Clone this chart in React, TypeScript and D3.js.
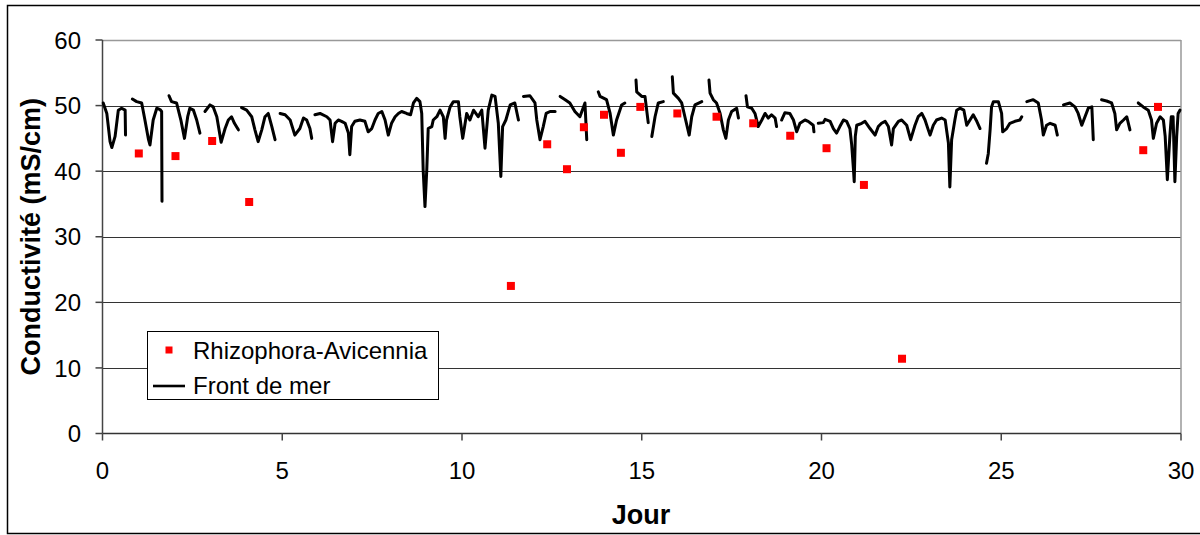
import React from "react";
import * as d3 from "d3";

// ---- Data ----
const rhizoDays = [1.01, 2.03, 3.05, 4.08, 11.36, 12.37, 12.92, 13.39, 13.95, 14.42, 14.96, 15.99, 17.08, 18.1, 19.13, 20.14, 21.18, 22.24, 28.95, 29.36];
const rhizoValues = [42.7, 42.3, 44.6, 35.3, 22.5, 44.1, 40.3, 46.7, 48.6, 42.8, 49.8, 48.8, 48.3, 47.3, 45.4, 43.5, 37.9, 11.4, 43.2, 49.8];

// Front de mer: continuous record, split in segments where data is missing
const frontSeg1: [number, number][] = [[0.02, 50.4], [0.12, 48.8], [0.21, 44.5], [0.26, 43.6], [0.35, 45.3], [0.44, 49.3], [0.53, 49.6], [0.63, 49.3], [0.64, 45.5]];
const frontSeg2: [number, number][] = [[0.83, 51.0], [0.95, 50.6], [1.09, 50.4], [1.18, 47.8], [1.28, 44.8], [1.32, 44.0], [1.41, 47.8], [1.51, 49.6], [1.6, 49.4], [1.645, 49.1], [1.655, 35.4]];
const frontSeg3: [number, number][] = [[1.85, 51.5], [1.92, 50.6], [2.06, 50.4], [2.18, 47.8], [2.28, 45.0], [2.37, 48.3], [2.43, 49.6], [2.53, 49.3], [2.62, 47.8], [2.71, 45.8]];
const frontSeg4: [number, number][] = [[2.85, 49.1], [2.99, 50.1], [3.08, 49.8], [3.18, 48.3], [3.3, 44.4], [3.41, 46.5], [3.5, 47.8], [3.59, 48.3], [3.67, 47.3], [3.78, 46.3]];
const frontSeg5: [number, number][] = [[3.87, 49.7], [4.01, 49.3], [4.15, 48.3], [4.24, 46.3], [4.33, 44.5], [4.43, 46.3], [4.52, 48.3], [4.61, 48.8], [4.71, 46.8], [4.8, 44.8]];
const frontSeg6: [number, number][] = [[4.94, 48.8], [5.08, 48.6], [5.22, 47.8], [5.35, 45.5], [5.49, 46.5], [5.59, 48.1], [5.68, 47.8], [5.77, 46.5], [5.82, 45.0]];
const frontSeg7: [number, number][] = [
  [5.91, 48.6], [6.05, 48.8], [6.24, 48.3], [6.33, 47.8], [6.4, 44.5], [6.47, 47.3], [6.56, 47.8], [6.65, 47.6], [6.75, 47.3], [6.84, 45.8], [6.88, 42.5], [6.93, 46.8],
  [7.02, 47.6], [7.16, 47.8], [7.3, 47.6], [7.39, 46.0], [7.49, 46.5], [7.58, 47.8], [7.67, 48.8], [7.77, 49.1], [7.86, 47.8], [7.95, 45.5], [8.04, 47.3], [8.14, 48.3],
  [8.23, 48.8], [8.32, 49.1], [8.46, 48.8], [8.57, 48.6], [8.65, 50.4], [8.74, 51.1], [8.83, 50.6], [8.88, 48.8], [8.92, 40.2], [8.97, 34.6], [9.02, 40.2], [9.06, 46.5],
  [9.16, 46.8], [9.2, 47.8], [9.3, 48.3], [9.39, 49.3], [9.48, 48.3], [9.53, 45.0], [9.57, 47.8], [9.67, 49.8], [9.76, 50.6], [9.9, 50.6], [9.94, 48.3], [10.02, 45.0],
  [10.13, 48.8], [10.22, 47.8], [10.32, 49.3], [10.45, 48.3], [10.55, 49.3], [10.64, 43.5], [10.73, 49.3], [10.83, 51.6], [10.92, 51.4], [11.01, 47.3], [11.08, 39.2],
  [11.13, 46.8], [11.22, 47.8], [11.34, 50.1], [11.47, 50.4], [11.57, 47.8]
];
const frontSeg8: [number, number][] = [[11.71, 51.4], [11.89, 51.5], [12.03, 50.4], [12.08, 47.8], [12.17, 44.8], [12.26, 46.8], [12.34, 48.8], [12.45, 49.1], [12.59, 49.1]];
const frontSeg9: [number, number][] = [[12.73, 51.4], [12.87, 50.9], [13.0, 50.4], [13.14, 49.1], [13.28, 48.3], [13.42, 50.4], [13.47, 44.8]];
const frontSeg10: [number, number][] = [[13.79, 52.1], [13.84, 51.4], [14.02, 50.9], [14.12, 48.8], [14.21, 45.5], [14.3, 47.8], [14.44, 50.1], [14.53, 50.4]];
const frontSeg11: [number, number][] = [[14.84, 53.9], [14.86, 52.1], [15.0, 51.4], [15.09, 51.4], [15.18, 47.4]];
const frontSeg12: [number, number][] = [[15.28, 45.3], [15.37, 48.3], [15.46, 50.4], [15.6, 50.6]];
const frontSeg13: [number, number][] = [[15.85, 54.4], [15.88, 51.9], [16.02, 51.1], [16.11, 50.4], [16.2, 48.3], [16.32, 45.5], [16.39, 48.3], [16.48, 50.1], [16.67, 50.6]];
const frontSeg14: [number, number][] = [[16.87, 53.9], [16.9, 51.9], [16.99, 50.9], [17.08, 50.4], [17.18, 48.8], [17.27, 46.3], [17.34, 45.0], [17.41, 47.8], [17.5, 49.1], [17.64, 49.6], [17.69, 48.1]];
const frontSeg15: [number, number][] = [[17.9, 51.5], [17.94, 49.8], [18.06, 49.6], [18.15, 48.8], [18.24, 46.8], [18.34, 47.8], [18.43, 48.8], [18.52, 48.1], [18.61, 48.6], [18.71, 48.1], [18.75, 46.8]];
const frontSeg16: [number, number][] = [[18.89, 47.8], [18.98, 48.9], [19.12, 48.8], [19.22, 47.8], [19.31, 46.0], [19.4, 47.3], [19.54, 47.8], [19.63, 47.6], [19.77, 47.0], [19.79, 46.0]];
const frontSeg17: [number, number][] = [
  [19.91, 47.3], [20.05, 47.4], [20.1, 47.9], [20.24, 47.6], [20.33, 46.5], [20.42, 45.8], [20.51, 46.8], [20.61, 47.8], [20.7, 47.6], [20.79, 46.5], [20.84, 44.0],
  [20.89, 40.2], [20.91, 38.4], [20.94, 45.3], [20.98, 47.0], [21.12, 47.3], [21.21, 47.6], [21.35, 46.5], [21.49, 45.5], [21.58, 46.8], [21.67, 47.3], [21.77, 47.6],
  [21.86, 46.8], [21.95, 44.0], [22.0, 46.5], [22.14, 47.6], [22.23, 47.8], [22.37, 47.0], [22.48, 44.8], [22.6, 47.0], [22.69, 48.3], [22.79, 48.8], [22.88, 47.8],
  [22.97, 46.3], [23.02, 45.5], [23.11, 47.0], [23.2, 47.8], [23.34, 48.1], [23.44, 47.8], [23.53, 44.3], [23.57, 37.6], [23.62, 44.8], [23.71, 47.8], [23.76, 49.3],
  [23.85, 49.6], [23.96, 49.3], [24.04, 47.0], [24.13, 47.8], [24.22, 48.6], [24.32, 47.6], [24.41, 46.5]
];
const frontSeg18: [number, number][] = [[24.59, 41.2], [24.64, 42.7], [24.69, 46.3], [24.73, 49.8], [24.78, 50.6], [24.92, 50.6], [25.01, 48.8], [25.04, 46.0], [25.15, 46.5], [25.24, 47.3], [25.38, 47.6], [25.52, 47.8], [25.57, 48.3]];
const frontSeg19: [number, number][] = [[25.71, 50.6], [25.89, 50.9], [26.03, 50.4], [26.12, 47.8], [26.17, 45.5], [26.26, 47.0], [26.36, 47.3], [26.5, 47.0], [26.56, 45.5]];
const frontSeg20: [number, number][] = [[26.73, 50.1], [26.91, 50.4], [27.05, 49.8], [27.14, 48.8], [27.24, 47.0], [27.33, 48.3], [27.42, 49.6], [27.52, 49.8], [27.56, 44.8]];
const frontSeg21: [number, number][] = [[27.79, 50.9], [27.93, 50.7], [28.07, 50.4], [28.16, 48.8], [28.21, 46.3], [28.3, 47.3], [28.4, 47.8], [28.49, 48.3], [28.58, 46.3]];
const frontSeg22: [number, number][] = [[28.81, 50.4], [28.95, 49.8], [29.09, 49.3], [29.18, 47.8], [29.23, 45.0], [29.32, 47.3], [29.42, 48.3], [29.51, 47.8], [29.56, 45.3], [29.62, 38.7], [29.69, 45.3], [29.73, 48.3], [29.78, 48.3], [29.83, 38.4], [29.88, 45.3], [29.92, 48.8], [29.97, 49.3]];

const frontSegments = [frontSeg1, frontSeg2, frontSeg3, frontSeg4, frontSeg5, frontSeg6, frontSeg7, frontSeg8, frontSeg9, frontSeg10, frontSeg11, frontSeg12, frontSeg13, frontSeg14, frontSeg15, frontSeg16, frontSeg17, frontSeg18, frontSeg19, frontSeg20, frontSeg21, frontSeg22];

const xTicks = [0, 5, 10, 15, 20, 25, 30];
const yTicks = [0, 10, 20, 30, 40, 50, 60];
const seriesNames = ["Rhizophora-Avicennia", "Front de mer"];
const xTitle = "Jour";
const yTitle = "Conductivité (mS/cm)";

export default function App() {
  const W = 1200, H = 535;
  const left = 102.5, right = 1181, top = 40, bottom = 433.5;
  const x = d3.scaleLinear().domain([0, 30]).range([left, right]);
  const y = d3.scaleLinear().domain([0, 60]).range([bottom, top]);
  const line = d3.line<[number, number]>().x(d => x(d[0])).y(d => y(d[1]));
  const font = "Arial, 'Liberation Sans', sans-serif";
  const sq = 8;

  return (
    <svg width={W} height={H} style={{ position: "absolute", left: 0, top: 0, background: "#fff" }} fontFamily={font}>
      <rect x={7.5} y={5.5} width={1200} height={528} fill="#fff" stroke="#000" strokeWidth={1.5} />
      {/* gridlines */}
      {yTicks.filter(t => t > 0 && t < 60).map(t => (
        <line key={t} x1={left} x2={right} y1={Math.round(y(t)) + 0.5} y2={Math.round(y(t)) + 0.5} stroke="#333" strokeWidth={1} />
      ))}
      {/* plot border top/right */}
      <line x1={left} x2={right} y1={top + 0.5} y2={top + 0.5} stroke="#999" strokeWidth={1.5} />
      <line x1={right} x2={right} y1={top} y2={bottom} stroke="#999" strokeWidth={1.5} />
      {/* axes */}
      <line x1={left} x2={left} y1={top} y2={bottom} stroke="#444" strokeWidth={1.5} />
      <line x1={left} x2={right} y1={bottom} y2={bottom} stroke="#333" strokeWidth={1.5} />
      {yTicks.map(t => (
        <g key={"y" + t}>
          <line x1={left - 7} x2={left} y1={y(t)} y2={y(t)} stroke="#444" strokeWidth={1.5} />
          <text x={81} y={y(t)} dy="0.36em" textAnchor="end" fontSize={24} fill="#000">{t}</text>
        </g>
      ))}
      {xTicks.map(t => (
        <g key={"x" + t}>
          <line x1={x(t)} x2={x(t)} y1={bottom} y2={bottom + 7} stroke="#444" strokeWidth={1.5} />
          <text x={x(t)} y={479} textAnchor="middle" fontSize={24} fill="#000">{t}</text>
        </g>
      ))}
      {/* series */}
      {frontSegments.map((seg, i) => (
        <path key={i} d={line(seg) || ""} fill="none" stroke="#000" strokeWidth={3} strokeLinejoin="round" strokeLinecap="round" />
      ))}
      {rhizoDays.map((d, i) => (
        <rect key={i} x={x(d) - sq / 2} y={y(rhizoValues[i]) - sq / 2} width={sq} height={sq} fill="#ff0000" />
      ))}
      {/* axis titles */}
      <text x={641} y={524} textAnchor="middle" fontSize={27} fontWeight="bold" fill="#000">{xTitle}</text>
      <text transform={`translate(40, ${(top + bottom) / 2}) rotate(-90)`} textAnchor="middle" fontSize={27} fontWeight="bold" fill="#000">{yTitle}</text>
      {/* legend */}
      <rect x={147.5} y={331.5} width={291} height={68} fill="#fff" stroke="#000" strokeWidth={1} />
      <rect x={169 - 3.5} y={350 - 3.5} width={7} height={7} fill="#ff0000" />
      <text x={193} y={350} dy="0.36em" fontSize={24} fill="#000">{seriesNames[0]}</text>
      <line x1={153} x2={185} y1={386} y2={386} stroke="#000" strokeWidth={2.6} />
      <text x={193} y={385} dy="0.36em" fontSize={24} fill="#000">{seriesNames[1]}</text>
    </svg>
  );
}
